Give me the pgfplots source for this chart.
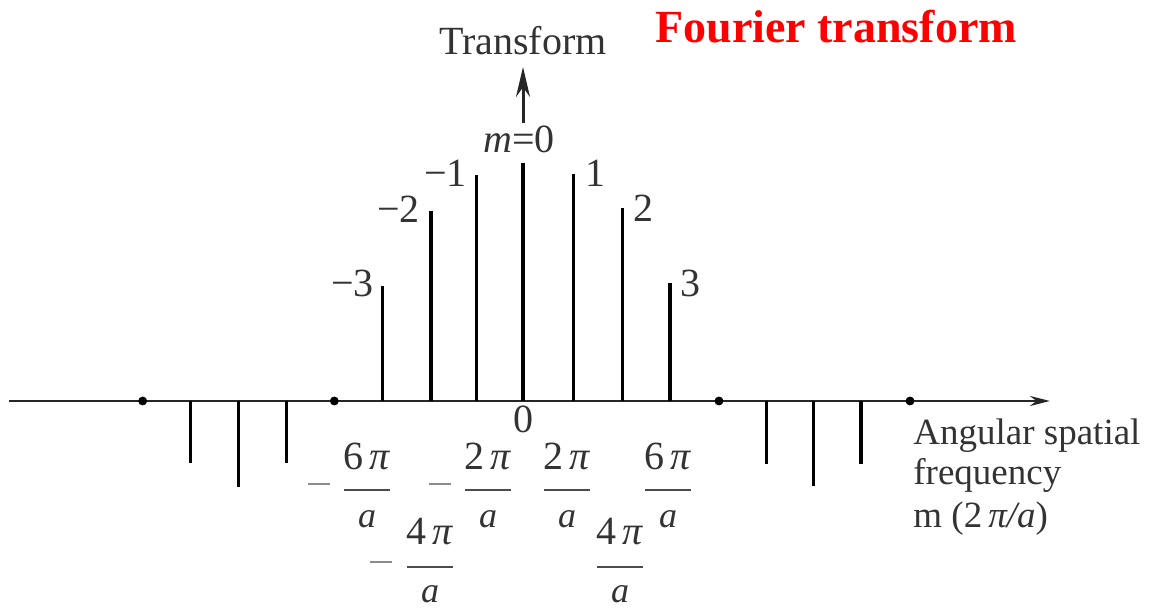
\documentclass[border=0pt]{standalone}
\usepackage{pgfplots}
\pgfplotsset{compat=1.18}
\usepackage{fontspec}
\setmainfont{Liberation Serif}
\usetikzlibrary{arrows.meta}
\newcommand{\fs}[1]{\fontsize{#1}{#1}\selectfont}
\newcommand{\fracrow}[5]{% x, numerator, num base y, bar y, den base y
  \node[anchor=base, font=\fs{20}, text=black!80, inner sep=0pt] at (axis cs:#1,#3) {#2\,\textit{π}};
  \node[inner sep=0pt, text=black!70] at (axis cs:#1,#4) {\rule{23pt}{0.7pt}};
  \node[anchor=base, font=\fs{18}, text=black!80, inner sep=0pt] at (axis cs:#1,#5) {\textit{a}};
}
\newcommand{\minussign}[2]{%
  \node[inner sep=0pt, text=black!45] at (axis cs:#1,#2) {\rule{11pt}{1.3pt}};
}
\begin{document}
\begin{tikzpicture}
\begin{axis}[
  scale only axis, width=579.5pt, height=305pt,
  xmin=-10.896, xmax=13.25, ymin=-2.09, ymax=4.01,
  hide axis, clip=false,
]
% horizontal axis
\addplot[black!85, line width=1.4pt, -{Stealth[length=10pt,width=5pt]}] coordinates {(-10.708,0) (10.979,0)};
% positive stems
\addplot[ycomb, black, line width=1.75pt, no marks] coordinates {
(-2.923,1.15) (-1.917,1.90) (-0.965,2.26) (0,2.38) (1.048,2.27) (2.069,1.93) (3.063,1.18)};
% negative stems
\addplot[ycomb, black, line width=1.6pt, no marks] coordinates {
(-6.923,-0.62) (-5.931,-0.86) (-4.923,-0.62) (5.077,-0.63) (6.048,-0.85) (7.042,-0.63)};
% dots on axis
\addplot[only marks, mark=*, mark size=2pt, black] coordinates {(-7.923,0) (-3.931,0) (4.083,0) (8.063,0)};
% vertical arrow
\draw[black!85, line width=1.5pt, -{Stealth[length=15pt,width=7pt]}] (axis cs:0,2.78) -- (axis cs:0,3.34);
\coordinate (SW) at (axis cs:-10.896,-2.09);
\coordinate (NE) at (axis cs:13.25,4.01);
% labels
\node[anchor=base, font=\fs{20}, text=black!80] at (axis cs:0,3.46) {Transform};
\node[anchor=base, font=\fs{20}, text=black!80, inner sep=0pt] at (axis cs:-0.083,2.48) {\textit{m}=0};
\node[anchor=base east, font=\fs{20}, text=black!80, inner sep=0pt] at (axis cs:-1.167,2.14) {−1};
\node[anchor=base west, font=\fs{20}, text=black!80, inner sep=0pt] at (axis cs:1.292,2.14) {1};
\node[anchor=base east, font=\fs{20}, text=black!80, inner sep=0pt] at (axis cs:-2.146,1.78) {−2};
\node[anchor=base west, font=\fs{20}, text=black!80, inner sep=0pt] at (axis cs:2.292,1.79) {2};
\node[anchor=base east, font=\fs{20}, text=black!80, inner sep=0pt] at (axis cs:-3.104,1.04) {−3};
\node[anchor=base west, font=\fs{20}, text=black!80, inner sep=0pt] at (axis cs:3.271,1.04) {3};
\node[anchor=base, font=\fs{20}, text=black!80, inner sep=0pt] at (axis cs:0,-0.32) {0};
% fractions row 1
\fracrow{-3.25}{6}{-0.69}{-0.89}{-1.27}
\fracrow{-0.729}{2}{-0.69}{-0.89}{-1.27}
\fracrow{0.917}{2}{-0.69}{-0.89}{-1.27}
\fracrow{3.021}{6}{-0.69}{-0.89}{-1.27}
\minussign{-4.25}{-0.83}
\minussign{-1.729}{-0.83}
% fractions row 2
\fracrow{-1.9375}{4}{-1.44}{-1.66}{-2.02}
\fracrow{2.021}{4}{-1.44}{-1.66}{-2.02}
\minussign{-2.958}{-1.61}
% right text
\node[anchor=base west, font=\fs{18.5}, text=black!80, inner sep=0pt] at (axis cs:8.125,-0.44) {Angular spatial};
\node[anchor=base west, font=\fs{18.5}, text=black!80, inner sep=0pt] at (axis cs:8.125,-0.84) {frequency};
\node[anchor=base west, font=\fs{18.5}, text=black!80, inner sep=0pt] at (axis cs:8.125,-1.27) {m (2\,\textit{π/a})};
% title
\node[anchor=base west, font=\fs{23}\bfseries, text=red, inner sep=0pt] at (axis cs:2.75,3.58) {Fourier transform};
\end{axis}
\pgfresetboundingbox
\path[use as bounding box] (SW) rectangle (NE);
\end{tikzpicture}
\end{document}
